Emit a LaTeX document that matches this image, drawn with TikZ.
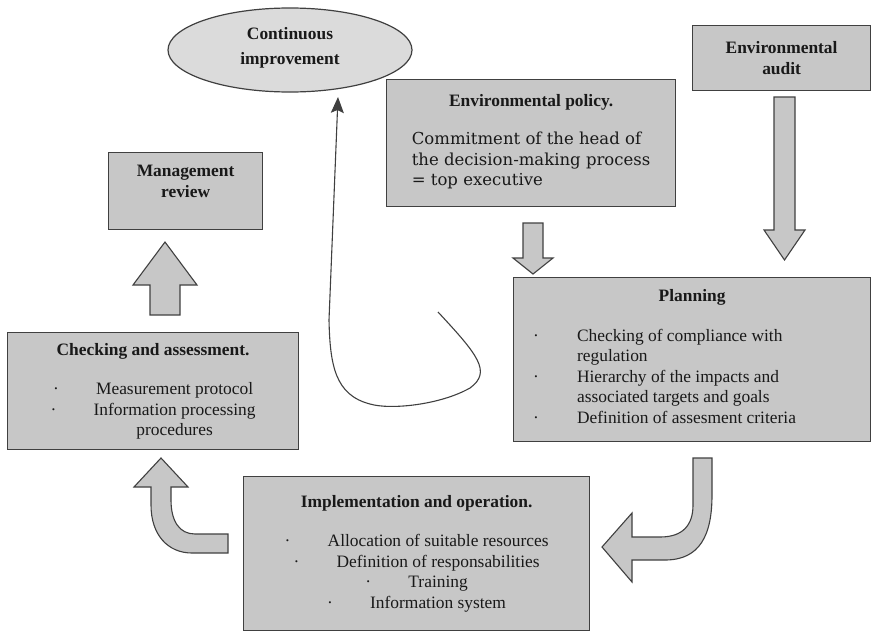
\documentclass[tikz,border=0pt]{standalone}
\usepackage{fontspec}
\setmainfont{Liberation Serif}
\newfontfamily\policyfont{DejaVu Serif}
\usetikzlibrary{shapes.geometric,arrows.meta}

\tikzset{
  box/.style={draw=black!75, fill=black!22, line width=1.2pt, anchor=north west,
    inner sep=0pt, align=center, text=black!90, font=\fontsize{17.4}{20.5}\selectfont},
  titlebox/.style={box, font=\bfseries\fontsize{17.4}{20.5}\selectfont},
  blockarrow/.style={draw=black!75, fill=black!22, line width=1.1pt, line join=miter},
  loopline/.style={draw=black!75, line width=1.1pt, -{Stealth[length=16pt,width=13pt,inset=3pt]}},
}
\newcommand{\bul}{\makebox[43pt][l]{·}}

\begin{document}
\begin{tikzpicture}[x=1pt,y=-1pt]
\useasboundingbox (0,0) rectangle (872,632);

\node (improve) [ellipse, draw=black!75, fill=black!14, line width=1.2pt, minimum width=244pt, minimum height=84pt,
  inner sep=0pt, align=center, text=black!90, text depth=8pt, font=\bfseries\fontsize{17.4}{20.5}\selectfont] at (290,50)
  {Continuous\\[4pt]improvement};

\node (audit) [titlebox, minimum width=178pt, minimum height=65pt] at (692,25) {Environmental\\ audit};

\node (policy) [box, minimum width=289pt, minimum height=127pt] at (386,79) {\textbf{Environmental policy.}\\[19pt]
  {\policyfont\fontsize{16.5}{20.5}\selectfont
  \begin{tabular}{@{}l@{}}
  Commitment of the head of\\
  the decision-making process\\
  = top executive
  \end{tabular}}};

\node (review) [titlebox, minimum width=154pt, minimum height=77pt, text depth=20pt] at (108,152) {Management\\ review};

\node (plan) [box, minimum width=357pt, minimum height=164pt] at (513,277) {\textbf{Planning}\\[20pt]
  \begin{tabular}{@{}p{44pt}@{}p{274pt}@{}}
  · & Checking of compliance with\\
    & regulation\\
  · & Hierarchy of the impacts and\\
    & associated targets and goals\\
  · & Definition of assesment criteria
  \end{tabular}};

\node (check) [box, minimum width=291pt, minimum height=117pt] at (7,332) {\textbf{Checking and assessment.}\\[19pt]
  \bul Measurement protocol\\
  \bul Information processing\\
  \hspace*{43pt}procedures};

\node (impl) [box, minimum width=346pt, minimum height=154pt] at (243,476) {\textbf{Implementation and operation.}\\[19pt]
  \bul Allocation of suitable resources\\
  \bul Definition of responsabilities\\
  \bul Training\\
  \bul Information system};

% straight block arrows
\draw[blockarrow] (774,97) -- (795,97) -- (795,230) -- (805,230) -- (784.5,260) -- (764,230) -- (774,230) -- cycle;
\draw[blockarrow] (523,223) -- (543,223) -- (543,258) -- (553,258) -- (533,274) -- (513,258) -- (523,258) -- cycle;
\draw[blockarrow] (150,315) -- (180,315) -- (180,285) -- (197,285) -- (165,242) -- (133,285) -- (150,285) -- cycle;

% bent block arrows
\draw[blockarrow] (712,458) -- (712,495) .. controls (712,535) and (700,560) .. (665,560) -- (632,560) -- (632,582)
  -- (602,547) -- (632,513) -- (632,537) -- (660,537) .. controls (683,537) and (693,525) .. (693,505) -- (693,458) -- cycle;
\draw[blockarrow] (228,534) -- (195,534) .. controls (180,534) and (171,522) .. (171,500) -- (171,487) -- (188,487)
  -- (161,458) -- (134,487) -- (151,487) -- (151,505) .. controls (151,535) and (168,553) .. (192,553) -- (228,553) -- cycle;

% loop back to continuous improvement
\coordinate (loopstart) at (438,312);
\coordinate (looptip) at (338,97);
\draw[loopline] (loopstart) .. controls (478,355) and (492,372) .. (470,388)
  .. controls (440,405) and (390,410) .. (370,404)
  .. controls (335,395) and (330,365) .. (329,320) -- (looptip);
\end{tikzpicture}
\end{document}
